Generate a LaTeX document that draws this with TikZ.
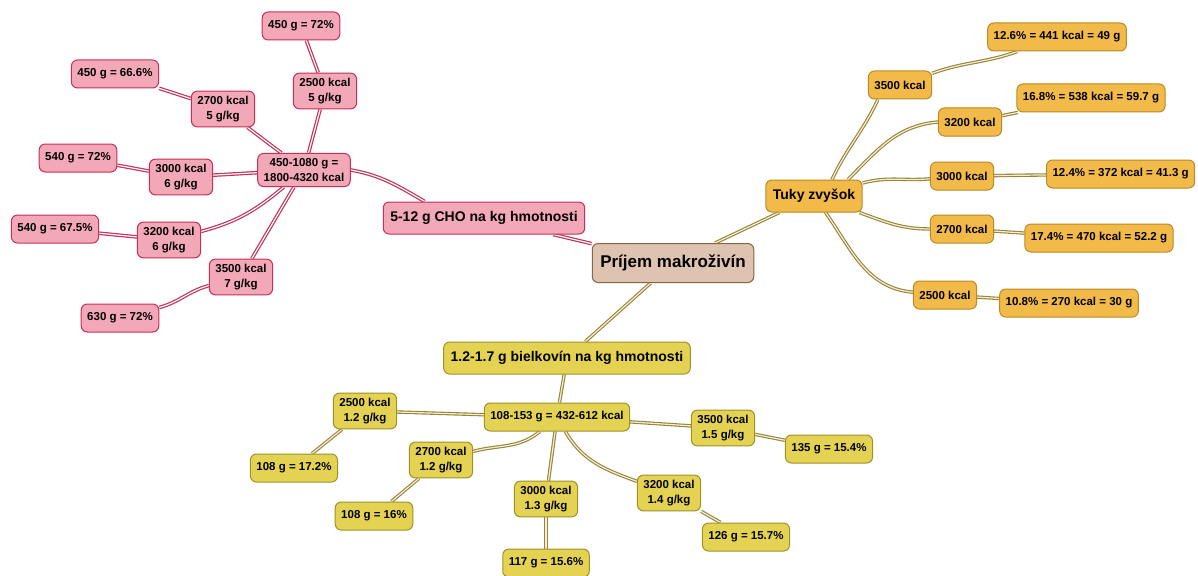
\documentclass[tikz,border=0pt]{standalone}
\usepackage{fontspec}
\setmainfont{Liberation Sans}
\usetikzlibrary{backgrounds}
\pgfdeclarelayer{bottom}
\pgfsetlayers{bottom,background,main}
\definecolor{pinkfill}{RGB}{243,168,184}
\definecolor{pinkline}{RGB}{196,48,88}
\definecolor{orfill}{RGB}{242,186,72}
\definecolor{orline}{RGB}{186,138,38}
\definecolor{yefill}{RGB}{228,211,82}
\definecolor{yeline}{RGB}{158,146,40}
\definecolor{cefill}{RGB}{222,196,176}
\definecolor{celine}{RGB}{140,100,68}
\definecolor{goldline}{RGB}{150,130,60}
\definecolor{goldin}{RGB}{246,240,205}
\tikzset{
  box/.style={draw, rounded corners=6pt, line width=1pt, align=center,
    inner xsep=6pt, inner ysep=5pt, minimum height=28pt,
    font=\bfseries\fontsize{11.5}{15}\selectfont},
  pk/.style={box, fill=pinkfill, draw=pinkline},
  orn/.style={box, fill=orfill, draw=orline},
  ye/.style={box, fill=yefill, draw=yeline},
  big/.style={font=\bfseries\fontsize{14}{16}\selectfont, minimum height=32pt, inner xsep=7pt},
  pedge/.style={draw=pinkline, line width=1.2pt, double=white, double distance=1.2pt},
  gedge/.style={draw=goldline, line width=1.1pt, double=goldin, double distance=1.2pt},
}
\begin{document}
\begin{tikzpicture}[x=1pt,y=1pt]
\begin{pgfonlayer}{bottom}
\fill[white] (0,0) rectangle (1198,-575);
\end{pgfonlayer}
\useasboundingbox (0,0) rectangle (1198,-575);
% central
\node[box, big, fill=cefill, draw=celine, font=\bfseries\fontsize{17}{19}\selectfont, minimum height=39pt, inner xsep=8pt] (cen) at (673,-263) {Príjem makroživín};
% pink
\node[pk, big] (cho) at (484,-218) {5-12 g CHO na kg hmotnosti};
\node[pk] (c0) at (304,-170) {450-1080 g =\\1800-4320 kcal};
\node[pk] (p25) at (325,-91) {2500 kcal\\5 g/kg};
\node[pk] (p25a) at (301,-26) {450 g = 72\%};
\node[pk] (p27) at (223,-109) {2700 kcal\\5 g/kg};
\node[pk] (p27a) at (115,-74) {450 g = 66.6\%};
\node[pk] (p30) at (181,-177) {3000 kcal\\6 g/kg};
\node[pk] (p30a) at (78,-158) {540 g = 72\%};
\node[pk] (p32) at (169,-240) {3200 kcal\\6 g/kg};
\node[pk] (p32a) at (55,-229) {540 g = 67.5\%};
\node[pk] (p35) at (241,-277) {3500 kcal\\7 g/kg};
\node[pk] (p35a) at (120,-318) {630 g = 72\%};
% orange
\node[orn, big] (tuky) at (814,-196) {Tuky zvyšok};
\node[orn] (o35) at (900,-85) {3500 kcal};
\node[orn] (o35a) at (1057,-37) {12.6\% = 441 kcal = 49 g};
\node[orn] (o32) at (970,-122) {3200 kcal};
\node[orn] (o32a) at (1091,-98) {16.8\% = 538 kcal = 59.7 g};
\node[orn] (o30) at (962,-176) {3000 kcal};
\node[orn, anchor=west] (o30a) at (1046,-174) {12.4\% = 372 kcal = 41.3 g};
\node[orn] (o27) at (962,-229) {2700 kcal};
\node[orn] (o27a) at (1099,-238) {17.4\% = 470 kcal = 52.2 g};
\node[orn] (o25) at (945,-295) {2500 kcal};
\node[orn] (o25a) at (1069,-303) {10.8\% = 270 kcal = 30 g};
% yellow
\node[ye, big] (y0) at (567,-358) {1.2-1.7 g bielkovín na kg hmotnosti};
\node[ye] (y1) at (557,-417) {108-153 g = 432-612 kcal};
\node[ye] (y25) at (365,-411) {2500 kcal\\1.2 g/kg};
\node[ye] (y25a) at (294,-468) {108 g = 17.2\%};
\node[ye] (y27) at (441,-460) {2700 kcal\\1.2 g/kg};
\node[ye] (y27a) at (374,-516) {108 g = 16\%};
\node[ye] (y30) at (546,-499) {3000 kcal\\1.3 g/kg};
\node[ye] (y30a) at (546,-563) {117 g = 15.6\%};
\node[ye] (y32) at (669,-493) {3200 kcal\\1.4 g/kg};
\node[ye] (y32a) at (746,-537) {126 g = 15.7\%};
\node[ye] (y35) at (723,-428) {3500 kcal\\1.5 g/kg};
\node[ye] (y35a) at (829,-449) {135 g = 15.4\%};
\begin{pgfonlayer}{background}
% pink edges
\path[pedge] (cen) -- (cho);
\path[pedge] ([xshift=42pt]cho.north west) to[out=150,in=-10] (c0.east);
\path[pedge] (c0) -- (p25);
\path[pedge] (p25) -- (p25a);
\path[pedge] (c0) -- (p27);
\path[pedge] (p27) -- (p27a);
\path[pedge] (c0) -- (p30);
\path[pedge] (p30) -- (p30a);
\path[pedge] (c0) to[out=220,in=15] (p32);
\path[pedge] (p32) -- (p32a);
\path[pedge] (c0) -- (p35);
\path[pedge] (p35) to[out=195,in=15] (p35a);
% orange edges
\path[gedge] (cen) -- (tuky);
\path[gedge] ([xshift=18pt]tuky.north) to[out=65,in=245] ([xshift=10pt]o35.south west);
\path[gedge] (o35) to[out=20,in=200] (o35a);
\path[gedge] ([xshift=34pt]tuky.north) to[out=45,in=185] (o32.west);
\path[gedge] (o32) -- (o32a);
\path[gedge] (tuky) to[out=15,in=185] (o30);
\path[gedge] (o30) -- (o30a);
\path[gedge] (tuky) to[out=-20,in=180] (o27);
\path[gedge] (o27) -- (o27a);
\path[gedge] (tuky) to[out=-55,in=175] (o25);
\path[gedge] (o25) -- (o25a);
% yellow edges
\path[gedge] (cen) -- (y0);
\path[gedge] (y0) -- (y1);
\path[gedge] (y1) -- (y25);
\path[gedge] (y25) -- (y25a);
\path[gedge] (y1) to[out=220,in=15] (y27);
\path[gedge] (y27) -- (y27a);
\path[gedge] (y1) -- (y30);
\path[gedge] (y30) -- (y30a);
\path[gedge] (y1) to[out=-60,in=160] (y32);
\path[gedge] (y32) -- (y32a);
\path[gedge] (y1) -- (y35);
\path[gedge] (y35) -- (y35a);
\end{pgfonlayer}
\end{tikzpicture}
\end{document}
